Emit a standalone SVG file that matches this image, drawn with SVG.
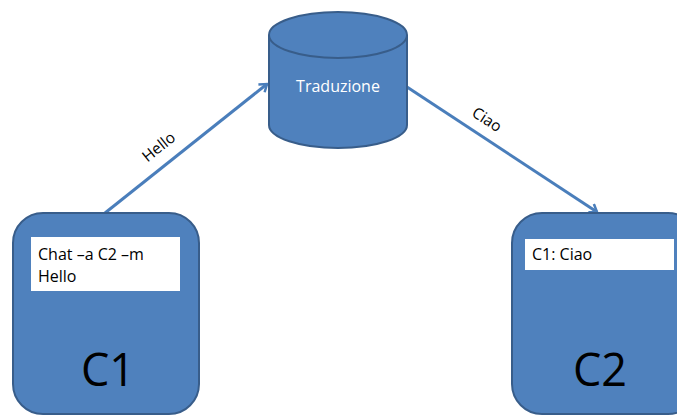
<svg xmlns="http://www.w3.org/2000/svg" width="677" height="415" viewBox="0 0 677 415">
<style>
.shape{fill:#4F81BD;stroke:#385D8A;stroke-width:2}
.box{fill:#FFFFFF}
.t{font-family:"Open Sans","Liberation Sans",sans-serif;fill:#000}
.conn{fill:none;stroke:#4A7EBB;stroke-width:3}
</style>
<defs>
<marker id="arr" markerWidth="12" markerHeight="12" refX="9" refY="6" orient="auto" markerUnits="userSpaceOnUse">
<path d="M2,1 L9,6 L2,11" fill="none" stroke="#4A7EBB" stroke-width="2.5"/>
</marker>
</defs>
<rect width="677" height="415" fill="#FFFFFF"/>
<g id="connectors">
<line class="conn" x1="105" y1="213" x2="267" y2="84" marker-end="url(#arr)"/>
<line class="conn" x1="407" y1="87" x2="597" y2="212" marker-end="url(#arr)"/>
<text class="t" font-size="15.5" transform="translate(162,151) rotate(-38.6)" text-anchor="middle">Hello</text>
<text class="t" font-size="15.5" transform="translate(484,124) rotate(33.4)" text-anchor="middle">Ciao</text>
</g>
<g id="traduzione">
<path class="shape" d="M269,35 L269,125 A69,23 0 0 0 407,125 L407,35"/>
<ellipse class="shape" cx="338" cy="35" rx="69" ry="23"/>
<text class="t" font-size="16" x="338" y="92" text-anchor="middle" style="fill:#FFFFFF">Traduzione</text>
</g>
<g id="c1">
<rect class="shape" x="13" y="213" width="186" height="201" rx="30"/>
<rect class="box" x="31" y="237" width="149" height="54"/>
<text class="t" font-size="16" x="38" y="260">Chat –a C2 –m</text>
<text class="t" font-size="16" x="38" y="282">Hello</text>
<text class="t" font-size="45" x="108" y="386" text-anchor="middle">C1</text>
</g>
<g id="c2">
<rect class="shape" x="512" y="213" width="186" height="201" rx="30"/>
<rect class="box" x="525" y="239" width="149" height="31"/>
<text class="t" font-size="16" x="532" y="260">C1: Ciao</text>
<text class="t" font-size="45" x="600" y="386" text-anchor="middle">C2</text>
</g>
</svg>
